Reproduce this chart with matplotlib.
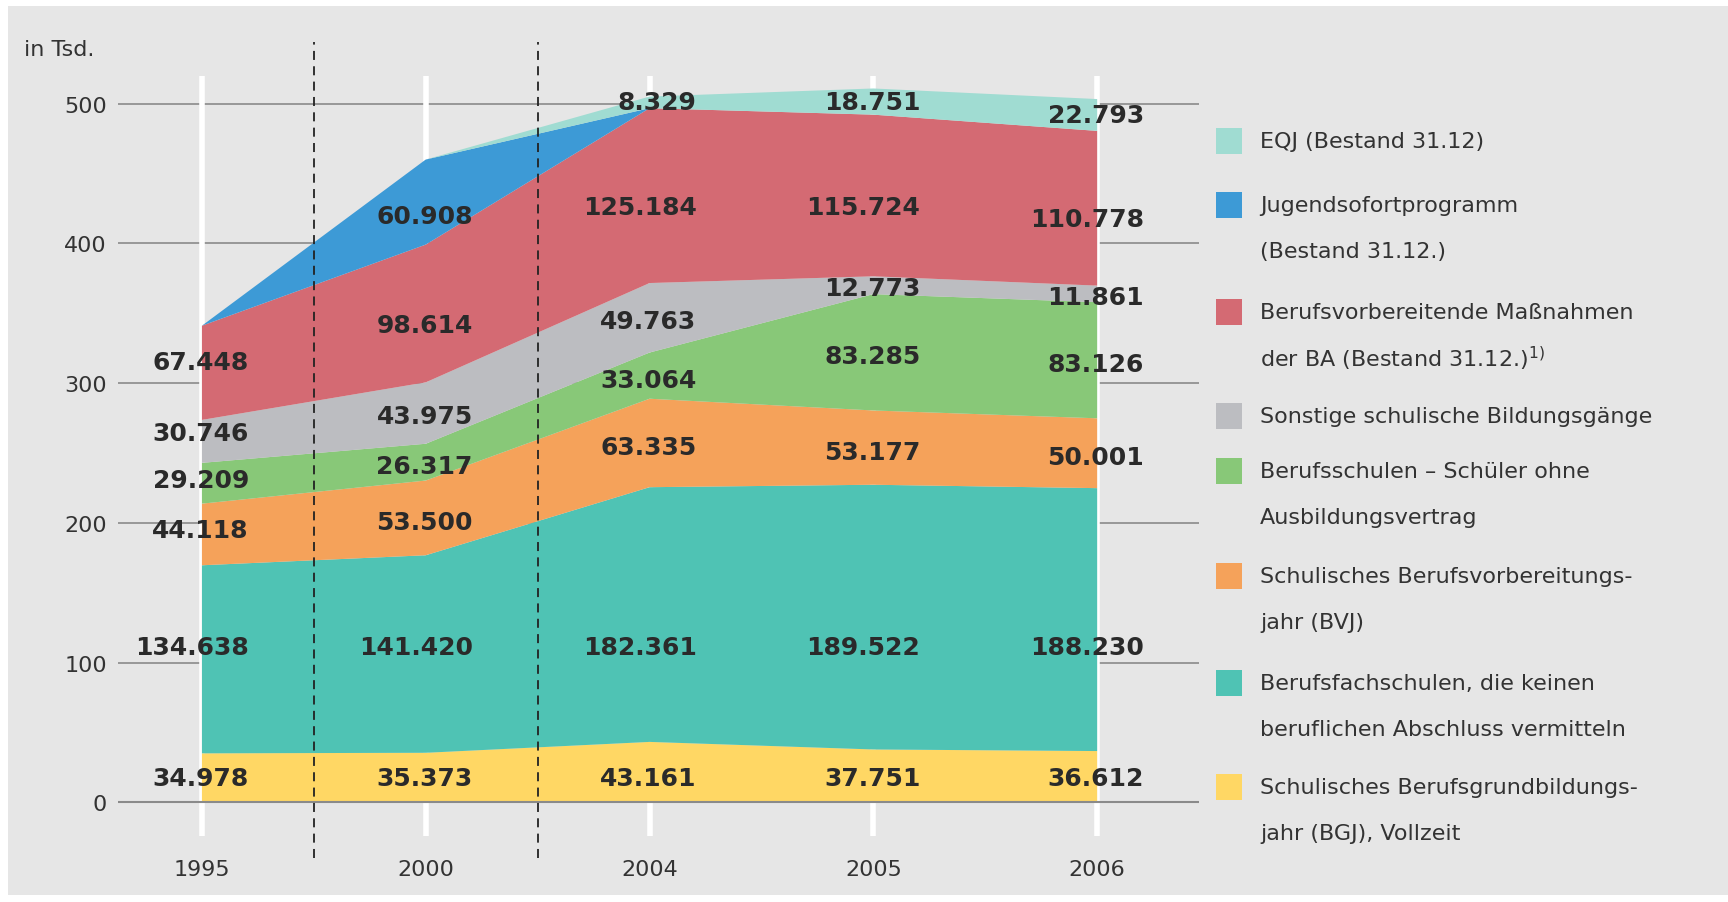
import matplotlib
matplotlib.use("Agg")
import matplotlib.pyplot as plt
from matplotlib.patches import Rectangle
import numpy as np

plt.rcParams['font.family'] = ['DejaVu Sans']

# data, in Tsd.
years = ['1995', '2000', '2004', '2005', '2006']
bgj = [34.978, 35.373, 43.161, 37.751, 36.612]
berufsfach = [134.638, 141.420, 182.361, 189.522, 188.230]
bvj = [44.118, 53.500, 63.335, 53.177, 50.001]
berufsschulen = [29.209, 26.317, 33.064, 83.285, 83.126]
sonstige = [30.746, 43.975, 49.763, 12.773, 11.861]
ba = [67.448, 98.614, 125.184, 115.724, 110.778]
jump = [0, 60.908, 0, 0, 0]
eqj = [0, 0, 8.329, 18.751, 22.793]

legend_labels = [
    'EQJ (Bestand 31.12)',
    'Jugendsofortprogramm\n(Bestand 31.12.)',
    'Berufsvorbereitende Maßnahmen\nder BA (Bestand 31.12.)$^{1)}$',
    'Sonstige schulische Bildungsgänge',
    'Berufsschulen – Schüler ohne\nAusbildungsvertrag',
    'Schulisches Berufsvorbereitungs-\njahr (BVJ)',
    'Berufsfachschulen, die keinen\nberuflichen Abschluss vermitteln',
    'Schulisches Berufsgrundbildungs-\njahr (BGJ), Vollzeit',
]

# bottom to top
layers = [bgj, berufsfach, bvj, berufsschulen, sonstige, ba, jump, eqj]
colors = ['#ffd764', '#4fc3b4', '#f5a25a', '#88c878', '#bcbdc1', '#d46a73', '#3d9ad6', '#a0dcd2']
# small vertical nudges for the value labels (first column placed a bit higher)
nudge = [None, None, -3, -3, -2, -8, -10, 0]
nudge_first = [None, None, 3, 2, 6, 8, 0, 0]
fixed_level = {0: 17, 1: 111}

W, H = 1728, 903
fig = plt.figure(figsize=(W / 100, H / 100), dpi=100)
fig.patches.append(Rectangle((8 / W, 1 - 896 / H), 1, (896 - 7) / H,
                             transform=fig.transFigure, facecolor='#e6e6e6',
                             edgecolor='none', zorder=-5))

ax = fig.add_axes([118 / W, 1 - 887 / H, 1081 / W, (887 - 21) / H])
ax.set_facecolor('none')
ax.set_zorder(2)
x = np.arange(len(years))

# white year lines
for xi in x:
    ax.plot([xi, xi], [-24, 520], color='white', lw=4, zorder=1, solid_capstyle='butt')

# gridlines
for yv in range(100, 501, 100):
    ax.axhline(yv, color='#8a8a8a', lw=1.2, zorder=0.5)

data = np.array(layers)
ax.stackplot(x, data, colors=colors, zorder=2, linewidth=0)
ax.axhline(0, color='#8a8a8a', lw=1.5, zorder=3)

# dashed separators
for xd in [0.5, 1.5]:
    ax.plot([xd, xd], [-40, 544], color='#222222', lw=1.3, ls=(0, (5, 3.5)), zorder=4)

# value labels
bottoms = np.vstack([np.zeros(len(years)), np.cumsum(data, axis=0)[:-1]])
for i, layer in enumerate(layers):
    for j, v in enumerate(layer):
        if v == 0:
            continue
        if i in fixed_level:
            yl = fixed_level[i]
        else:
            dy = nudge_first[i] if j == 0 else nudge[i]
            yl = bottoms[i][j] + v / 2 + dy
        ax.text(j + 0.21, yl, f'{v:.3f}', ha='right', va='center', fontsize=18,
                fontweight='bold', color='#2a2a2a', zorder=5)

# year labels
for j, yr in enumerate(years):
    ax.text(j, -48, yr, ha='center', va='center', fontsize=16, color='#333333')

ax.set_xlim(-0.375, 4.455)
ax.set_ylim(-60, 560)
ax.set_yticks(range(0, 501, 100))
ax.set_yticklabels([str(v) for v in range(0, 501, 100)], fontsize=16, color='#333333')
ax.tick_params(axis='y', length=0, pad=8)
ax.set_xticks([])
for s in ax.spines.values():
    s.set_visible(False)

fig.text(24 / W, 1 - 50 / H, 'in Tsd.', fontsize=16, color='#333333', va='center')

# legend, top to bottom
leg_y = [142, 206, 313, 417, 472, 577, 684, 788]
for k, lab in enumerate(legend_labels):
    c = colors[len(colors) - 1 - k]
    yy = leg_y[k]
    fig.patches.append(Rectangle((1216 / W, 1 - (yy + 13) / H), 26 / W, 26 / H,
                                 transform=fig.transFigure, facecolor=c,
                                 edgecolor='none', zorder=3))
    for n, line in enumerate(lab.split('\n')):
        fig.text(1260 / W, 1 - (yy + 46 * n) / H, line, fontsize=16, color='#333333',
                 va='center')

fig.savefig('out.png', dpi=100)
